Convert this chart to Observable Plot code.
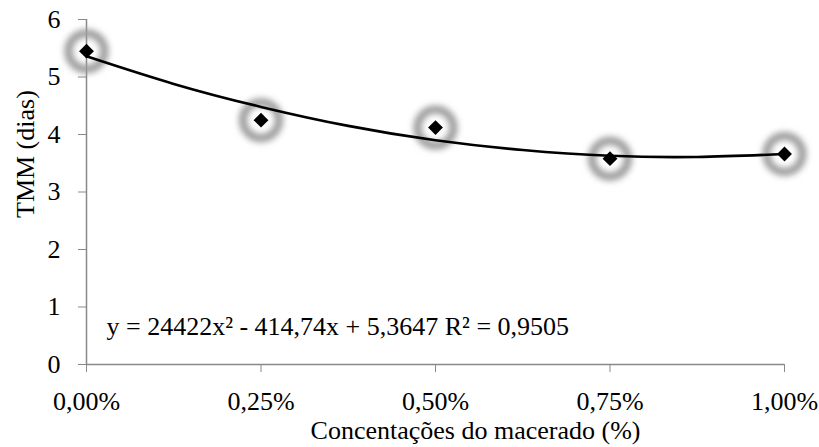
<!DOCTYPE html>
<html>
<head>
<meta charset="utf-8">
<script src="https://cdn.jsdelivr.net/npm/d3@7"></script>
<script src="https://cdn.jsdelivr.net/npm/@observablehq/plot@0.6"></script>
<style>
  html, body { margin: 0; padding: 0; background: #fff; }
  svg, svg text { font-family: "Liberation Serif", "DejaVu Serif", serif !important; }
</style>
</head>
<body>
<div id="chart"></div>
<script>
// Observed points: concentration (%) vs TMM (dias)
const concentrations = [0, 0.25, 0.5, 0.75, 1.0];
const tmmValues = [5.45, 4.25, 4.12, 3.58, 3.66];

// Polynomial trendline
const trendX = [0, 0.125, 0.25, 0.375, 0.5, 0.625, 0.75, 0.875, 1.0];
const trendY = [5.36, 4.88, 4.48, 4.15, 3.90, 3.73, 3.63, 3.61, 3.66];

const xTicks = [0, 0.25, 0.5, 0.75, 1.0];
const yTicks = [0, 1, 2, 3, 4, 5, 6];

const equationText = "y = 24422x\u00B2 - 414,74x + 5,3647 R\u00B2 = 0,9505";
const xTitle = "Concentações do macerado (%)";
const yTitle = "TMM (dias)";

const points = concentrations.map((c, i) => ({x: c, y: tmmValues[i]}));
const trend = trendX.map((c, i) => ({x: c, y: trendY[i]}));

const axisColor = "#898989";
const fs = 26;

const chart = Plot.plot({
  width: 819,
  height: 447,
  marginLeft: 86,
  marginRight: 35,
  marginTop: 19,
  marginBottom: 83,
  style: {fontSize: fs + "px", color: "#000", background: "#fff", overflow: "visible"},
  x: {domain: [0, 1], ticks: xTicks},
  y: {domain: [0, 6], ticks: yTicks},
  marks: [
    Plot.axisY({
      ticks: yTicks, tickSize: 8, tickPadding: 18, stroke: axisColor, fill: "#000",
      fontSize: fs, label: null, tickFormat: d => String(d)
    }),
    Plot.axisX({
      ticks: xTicks, tickSize: 8, tickPadding: 19, stroke: axisColor, fill: "#000",
      fontSize: fs, label: null,
      tickFormat: d => d.toFixed(2).replace(".", ",") + "%"
    }),
    Plot.ruleX([0], {stroke: axisColor, strokeWidth: 1.5}),
    Plot.ruleY([0], {stroke: axisColor, strokeWidth: 1.5}),
    Plot.dot(points, {x: "x", y: "y", r: 18, stroke: "#9a9a9a", strokeWidth: 8, fill: "none"}),
    Plot.line(trend, {x: "x", y: "y", curve: "natural", stroke: "#000", strokeWidth: 2.6}),
    Plot.dot(points, {x: "x", y: "y", symbol: "diamond2", r: 6.7, fill: "#000", stroke: "none"}),
    Plot.text([equationText], {frameAnchor: "bottom-left", text: d => d, dx: 20, dy: -38, textAnchor: "start", lineAnchor: "middle", fontSize: fs, fill: "#000"}),
    Plot.text([xTitle], {frameAnchor: "bottom", text: d => d, dx: 40, dy: 66, lineAnchor: "middle", fontSize: fs, fill: "#000"}),
    Plot.text([yTitle], {frameAnchor: "left", text: d => d, dx: -61, dy: 26, rotate: -90, lineAnchor: "middle", fontSize: fs, fill: "#000"})
  ]
});

const svg = d3.select(chart);
const defs = svg.insert("defs", ":first-child");
const f = defs.append("filter").attr("id", "glowBlur").attr("x", "-50%").attr("y", "-50%").attr("width", "200%").attr("height", "200%");
f.append("feGaussianBlur").attr("stdDeviation", 3);
svg.selectAll('g[aria-label="dot"]').filter((d, i) => i === 0).attr("filter", "url(#glowBlur)");

document.getElementById("chart").appendChild(chart);
</script>
</body>
</html>
